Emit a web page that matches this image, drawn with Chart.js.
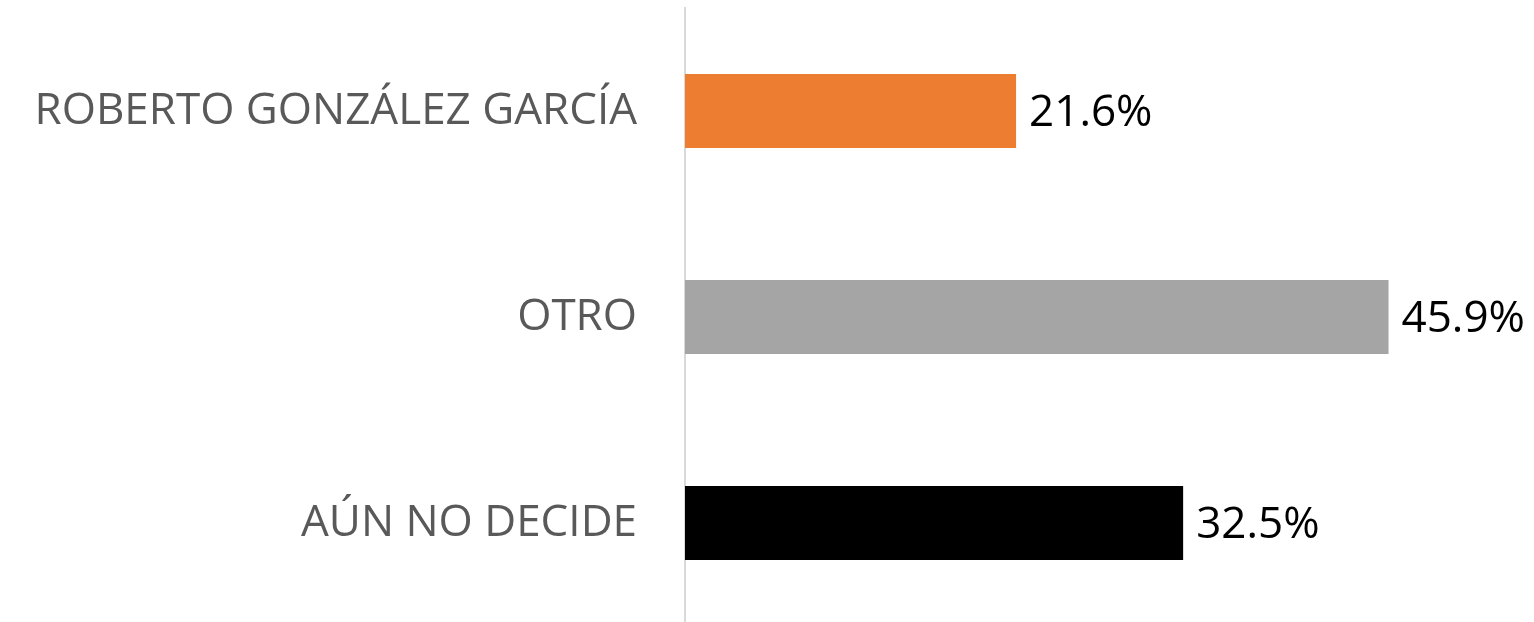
<!DOCTYPE html>
<html>
<head>
<meta charset="utf-8">
<script src="https://cdn.jsdelivr.net/npm/chart.js@4"></script>
<style>
    html, body { margin: 0; padding: 0; background: #ffffff; overflow: hidden; }
    #wrap { width: 1534px; height: 626px; }
</style>
</head>
<body>
<div id="wrap"><canvas id="voteChart"></canvas></div>
<script>
const categories = ['ROBERTO GONZÁLEZ GARCÍA', 'OTRO', 'AÚN NO DECIDE'];
const values = [21.6, 45.9, 32.5];
const barColors = ['#ED7D31', '#A5A5A5', '#000000'];

const labelFont = '"Open Sans", sans-serif';

// draws "21.6%" etc right after each bar
const valueLabels = {
    id: 'valueLabels',
    afterDatasetsDraw(chart) {
        const ctx = chart.ctx;
        const meta = chart.getDatasetMeta(0);
        ctx.save();
        ctx.font = '44px ' + labelFont;
        ctx.fillStyle = '#000000';
        ctx.textAlign = 'left';
        ctx.textBaseline = 'middle';
        meta.data.forEach(function (bar, i) {
            ctx.fillText(values[i].toFixed(1) + '%', bar.x + 13, bar.y + 2);
        });
        ctx.restore();
    }
};

document.addEventListener("DOMContentLoaded", function () {
    const ctx = document.getElementById('voteChart').getContext('2d');
    new Chart(ctx, {
        type: 'bar',
        data: {
            labels: categories,
            datasets: [{
                data: values,
                backgroundColor: barColors,
                barPercentage: 0.36,
                categoryPercentage: 1.0
            }]
        },
        options: {
            indexAxis: 'y',
            responsive: true,
            maintainAspectRatio: false,
            animation: false,
            layout: { padding: { top: 8, right: 6, bottom: 0, left: 0 } },
            plugins: {
                legend: { display: false },
                tooltip: { enabled: false }
            },
            scales: {
                x: {
                    display: false,
                    min: 0,
                    max: 55
                },
                y: {
                    grid: { display: false, drawTicks: false },
                    border: { display: true, color: '#D9D9D9', width: 2 },
                    ticks: {
                        color: '#595959',
                        font: { family: labelFont, size: 44 },
                        padding: 48
                    },
                    afterFit: function (scale) {
                        scale.width = 685;
                        // tick padding would otherwise push the plot down
                        scale.paddingTop = 0;
                        scale.paddingBottom = 0;
                    }
                }
            }
        },
        plugins: [valueLabels]
    });
});
</script>
</body>
</html>
